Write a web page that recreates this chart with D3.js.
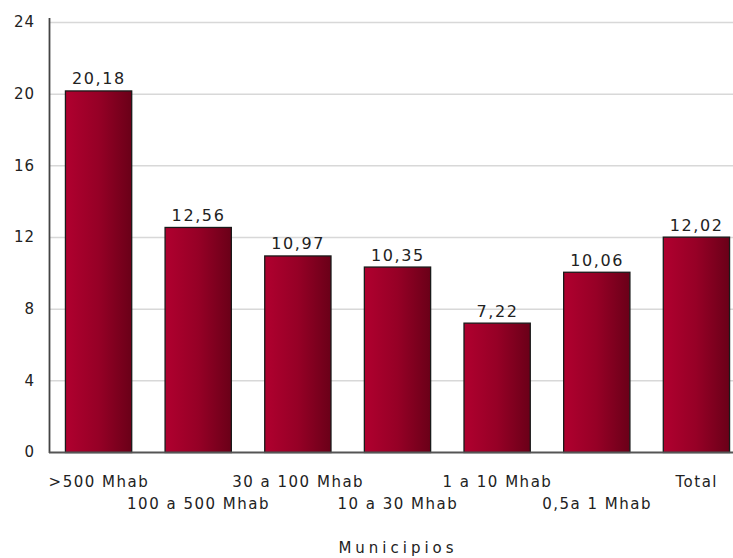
<!DOCTYPE html>
<html><head><meta charset="utf-8">
<script src="https://cdn.jsdelivr.net/npm/d3@7"></script>
<style>body{margin:0;background:#fff}svg{display:block}text{font-family:"DejaVu Sans",Verdana,sans-serif;fill:#222}</style>
</head><body><div id="chart"></div>
<script>
const categories = [">500 Mhab","100 a 500 Mhab","30 a 100 Mhab","10 a 30 Mhab","1 a 10 Mhab","0,5a 1 Mhab","Total"];
const values = [20.18,12.56,10.97,10.35,7.22,10.06,12.02];
const valueLabels = ["20,18","12,56","10,97","10,35","7,22","10,06","12,02"];
const yTicks = [0,4,8,12,16,20,24];
const xTitle = "Municipios";

(function(){
const W = 733, H = 558;
const mLeft = 49, mTop = 22, mBottom = 452, mRight = 745;
const svg = d3.select("#chart").append("svg").attr("width", W).attr("height", H);
const defs = svg.append("defs");
const g = defs.append("linearGradient").attr("id","barGrad").attr("x1","0").attr("x2","1").attr("y1","0").attr("y2","0");
g.append("stop").attr("offset","0%").attr("stop-color","#b0002f");
g.append("stop").attr("offset","50%").attr("stop-color","#960026");
g.append("stop").attr("offset","100%").attr("stop-color","#6a0018");

const x = d3.scaleBand().domain(categories).range([mLeft, mRight]).paddingInner(0.335).paddingOuter(0.16);
const y = d3.scaleLinear().domain([0,24]).range([mBottom, mTop]);

svg.append("g").selectAll("line").data(yTicks.filter(d=>d>0)).join("line")
  .attr("x1", mLeft).attr("x2", W).attr("y1", d=>y(d)+0.5).attr("y2", d=>y(d)+0.5)
  .attr("stroke","#d8d8d8").attr("stroke-width",1.5);

const yAxis = d3.axisLeft(y).tickValues(yTicks).tickSize(0).tickPadding(14);
const ya = svg.append("g").attr("transform",`translate(${mLeft},0)`).call(yAxis);
ya.select(".domain").remove();
ya.selectAll("text").attr("font-size","15px").attr("fill","#222").style("font-family",'"DejaVu Sans",sans-serif').attr("letter-spacing","1px");

svg.append("g").selectAll("rect").data(values).join("rect")
  .attr("x",(d,i)=>x(categories[i])+0.5).attr("y",d=>y(d)+0.5)
  .attr("width",x.bandwidth()).attr("height",d=>mBottom-y(d))
  .attr("fill","url(#barGrad)").attr("stroke","#1a1a1a").attr("stroke-width",1.3);

svg.append("g").selectAll("text").data(values).join("text")
  .attr("x",(d,i)=>x(categories[i])+x.bandwidth()/2+0.8).attr("y",d=>y(d)-6)
  .attr("text-anchor","middle").attr("font-size","16px").attr("letter-spacing","1.6px")
  .text((d,i)=>valueLabels[i]);

svg.append("line").attr("x1",mLeft+0.5).attr("x2",mLeft+0.5).attr("y1",mTop-4).attr("y2",mBottom+1).attr("stroke","#444").attr("stroke-width",1.8);
svg.append("line").attr("x1",mLeft).attr("x2",W).attr("y1",mBottom+0.5).attr("y2",mBottom+0.5).attr("stroke","#555").attr("stroke-width",1.8);

const xAxis = d3.axisBottom(x).tickSize(0).tickPadding(0);
const xa = svg.append("g").attr("transform",`translate(0.8,${mBottom})`).call(xAxis);
xa.select(".domain").remove();
xa.selectAll("text").attr("font-size","15px").attr("fill","#222").style("font-family",'"DejaVu Sans",sans-serif')
  .attr("letter-spacing","1.5px").attr("dy",null)
  .attr("y",(d,i)=> i%2===0 ? 35 : 57);

svg.append("text").attr("x",398).attr("y",553).attr("text-anchor","middle")
  .attr("font-size","15px").attr("letter-spacing","4px").text(xTitle);
})();
</script></body></html>
